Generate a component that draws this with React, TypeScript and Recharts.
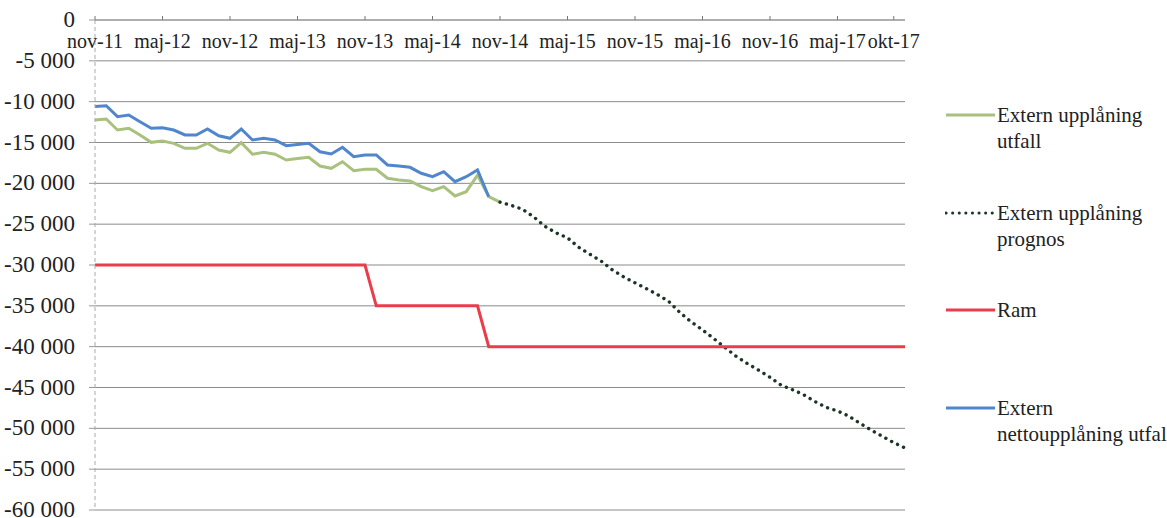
import React from 'react';
import { LineChart, Line, XAxis, YAxis, CartesianGrid } from 'recharts';

const MONTHS = [
  'nov-11', 'dec-11',
  'jan-12', 'feb-12', 'mar-12', 'apr-12', 'maj-12', 'jun-12', 'jul-12', 'aug-12', 'sep-12', 'okt-12', 'nov-12', 'dec-12',
  'jan-13', 'feb-13', 'mar-13', 'apr-13', 'maj-13', 'jun-13', 'jul-13', 'aug-13', 'sep-13', 'okt-13', 'nov-13', 'dec-13',
  'jan-14', 'feb-14', 'mar-14', 'apr-14', 'maj-14', 'jun-14', 'jul-14', 'aug-14', 'sep-14', 'okt-14', 'nov-14', 'dec-14',
  'jan-15', 'feb-15', 'mar-15', 'apr-15', 'maj-15', 'jun-15', 'jul-15', 'aug-15', 'sep-15', 'okt-15', 'nov-15', 'dec-15',
  'jan-16', 'feb-16', 'mar-16', 'apr-16', 'maj-16', 'jun-16', 'jul-16', 'aug-16', 'sep-16', 'okt-16', 'nov-16', 'dec-16',
  'jan-17', 'feb-17', 'mar-17', 'apr-17', 'maj-17', 'jun-17', 'jul-17', 'aug-17', 'sep-17', 'okt-17', 'nov-17',
];

const X_TICKS = ['nov-11', 'maj-12', 'nov-12', 'maj-13', 'nov-13', 'maj-14', 'nov-14', 'maj-15', 'nov-15', 'maj-16', 'nov-16', 'maj-17', 'okt-17'];
const Y_TICKS = [0, -5000, -10000, -15000, -20000, -25000, -30000, -35000, -40000, -45000, -50000, -55000, -60000];

// Extern upplåning utfall (nov-11 .. nov-14)
const UTFALL = [
  -12240, -12120, -13470, -13260, -14080, -14980, -14820, -15100, -15710, -15710,
  -15100, -15920, -16200, -15020, -16440, -16200, -16440, -17140, -16960, -16810,
  -17880, -18160, -17350, -18450, -18280, -18280, -19380, -19590, -19710, -20410,
  -20900, -20410, -21550, -21020, -19000, -21640, -22300,
];

// Extern upplåning prognos (nov-14 .. nov-17)
const PROGNOS_START = 'nov-14';
const PROGNOS = [
  -22300, -22700, -23170, -24110, -25270, -26080, -26670, -27830, -28690, -29530,
  -30610, -31460, -32180, -32890, -33620, -34460, -35830, -36970, -37950, -39010,
  -40110, -41190, -42080, -42890, -43750, -44720, -45270, -45890, -46720, -47440,
  -47870, -48500, -49380, -50220, -50990, -51750, -52400,
];

// Ram
const RAM = [
  -30000, -30000, -30000, -30000, -30000, -30000, -30000, -30000, -30000, -30000,
  -30000, -30000, -30000, -30000, -30000, -30000, -30000, -30000, -30000, -30000,
  -30000, -30000, -30000, -30000, -30000,
  -35000, -35000, -35000, -35000, -35000, -35000, -35000, -35000, -35000, -35000,
  -40000, -40000, -40000, -40000, -40000, -40000, -40000, -40000, -40000, -40000,
  -40000, -40000, -40000, -40000, -40000, -40000, -40000, -40000, -40000, -40000,
  -40000, -40000, -40000, -40000, -40000, -40000, -40000, -40000, -40000, -40000,
  -40000, -40000, -40000, -40000, -40000, -40000, -40000, -40000,
];

// Extern nettoupplåning utfall (nov-11 .. okt-14)
const NETTO = [
  -10600, -10500, -11840, -11630, -12450, -13260, -13190, -13470, -14080, -14080,
  -13350, -14170, -14490, -13350, -14690, -14490, -14690, -15390, -15240, -15100,
  -16130, -16410, -15590, -16740, -16530, -16530, -17750, -17880, -18040, -18770,
  -19190, -18570, -19800, -19190, -18370, -21640,
];

const SERIES_NAMES = ['Extern upplåning utfall', 'Extern upplåning prognos', 'Ram', 'Extern nettoupplåning utfall'];
const LEGEND_LINES = [
  ['Extern upplåning', 'utfall'],
  ['Extern upplåning', 'prognos'],
  ['Ram'],
  ['Extern', 'nettoupplåning utfal'],
];

const COLORS = {
  utfall: '#a9c07e',
  prognos: '#1c3626',
  ram: '#ea3d4c',
  netto: '#4f86cc',
};

const FONT = "'Liberation Serif', 'Times New Roman', serif";

const prognosIndex = MONTHS.indexOf(PROGNOS_START);
const data = MONTHS.map((m, i) => ({
  month: m,
  utfall: i < UTFALL.length ? UTFALL[i] : null,
  prognos: i >= prognosIndex ? PROGNOS[i - prognosIndex] : null,
  ram: RAM[i],
  netto: i < NETTO.length ? NETTO[i] : null,
}));

const fmt = (v: number) => {
  if (v === 0) return '0';
  const s = Math.abs(v).toString();
  const withSpace = s.replace(/\B(?=(\d{3})+(?!\d))/g, ' ');
  return (v < 0 ? '-' : '') + withSpace;
};

const XTick = (props: any) => {
  const { x, y, payload } = props;
  return (
    <text x={x} y={y + 32} textAnchor="middle" style={{ fontFamily: FONT, fontSize: 20, fill: '#222' }}>
      {payload.value}
    </text>
  );
};

const YTick = (props: any) => {
  const { x, y, payload } = props;
  return (
    <text x={x} y={y + 7} textAnchor="end" style={{ fontFamily: FONT, fontSize: 23, fill: '#222' }}>
      {fmt(payload.value)}
    </text>
  );
};

const legendSwatch = [
  { color: COLORS.utfall, dotted: false },
  { color: COLORS.prognos, dotted: true },
  { color: COLORS.ram, dotted: false },
  { color: COLORS.netto, dotted: false },
];

const LegendBox = () => (
  <div style={{ position: 'absolute', left: 945, top: 102, width: 222, fontFamily: FONT, fontSize: 21, color: '#222' }}>
    {LEGEND_LINES.map((lines, k) => (
      <div key={SERIES_NAMES[k]} style={{ position: 'relative', height: 97.5 }}>
        <svg width={52} height={26} style={{ position: 'absolute', left: 0, top: 0 }}>
          <line
            x1={1}
            x2={50}
            y1={13}
            y2={13}
            stroke={legendSwatch[k].color}
            strokeWidth={3}
            strokeDasharray={legendSwatch[k].dotted ? '0.1 6.5' : undefined}
            strokeLinecap={legendSwatch[k].dotted ? 'round' : 'butt'}
          />
        </svg>
        <div style={{ position: 'absolute', left: 52, top: 0, lineHeight: '26px', whiteSpace: 'nowrap' }}>
          {lines.map((l) => (
            <div key={l}>{l}</div>
          ))}
        </div>
      </div>
    ))}
  </div>
);

export default function App() {
  return (
    <div style={{ position: 'absolute', left: 0, top: 0, width: 1167, height: 518, background: '#fff' }}>
      <LineChart width={1167} height={518} data={data} margin={{ top: 19, right: 262, bottom: 8, left: 0 }}>
        <CartesianGrid vertical={false} stroke="#8a8a8a" strokeWidth={1} />
        <XAxis
          dataKey="month"
          orientation="top"
          height={1}
          ticks={X_TICKS}
          interval={0}
          tick={<XTick />}
          tickSize={4}
          tickMargin={0}
          axisLine={{ stroke: '#999' }}
          tickLine={{ stroke: '#777' }}
        />
        <YAxis
          type="number"
          domain={[-60000, 0]}
          ticks={Y_TICKS}
          interval={0}
          width={95}
          tick={<YTick />}
          tickSize={6}
          tickMargin={14}
          axisLine={{ stroke: '#aaa', strokeDasharray: '4 3' }}
          tickLine={{ stroke: '#999' }}
        />
        <Line name={SERIES_NAMES[0]} dataKey="utfall" type="linear" stroke={COLORS.utfall} strokeWidth={3} dot={false} isAnimationActive={false} connectNulls={false} />
        <Line name={SERIES_NAMES[1]} dataKey="prognos" type="linear" stroke={COLORS.prognos} strokeWidth={3.4} strokeDasharray="0.1 6.5" strokeLinecap="round" dot={false} isAnimationActive={false} connectNulls={false} />
        <Line name={SERIES_NAMES[2]} dataKey="ram" type="linear" stroke={COLORS.ram} strokeWidth={3} dot={false} isAnimationActive={false} />
        <Line name={SERIES_NAMES[3]} dataKey="netto" type="linear" stroke={COLORS.netto} strokeWidth={3} dot={false} isAnimationActive={false} connectNulls={false} />
      </LineChart>
      <LegendBox />
    </div>
  );
}
